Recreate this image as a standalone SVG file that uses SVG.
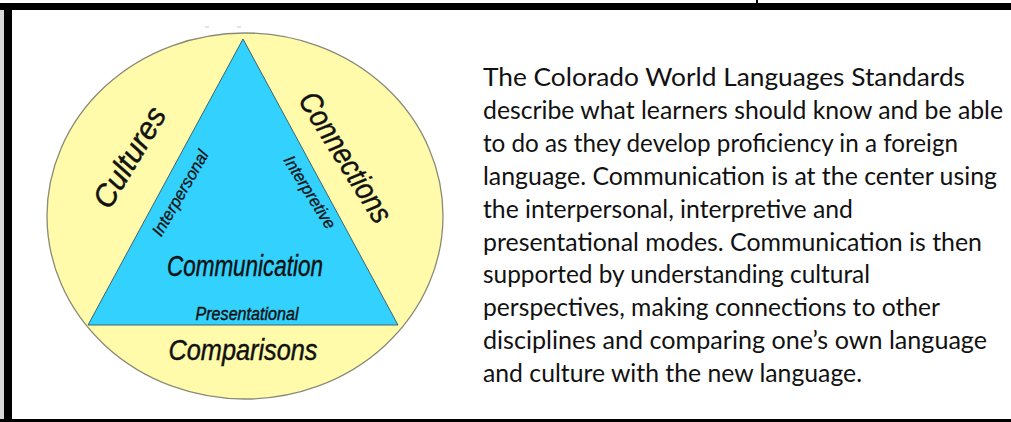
<svg xmlns="http://www.w3.org/2000/svg" width="1011" height="422" viewBox="0 0 1011 422">
<style>
.lbl{font-family:"Liberation Sans",Arial,sans-serif;font-style:italic;fill:#111;stroke:#111;stroke-width:0.45;text-anchor:middle}
.big{font-size:31px}
.mid{font-size:29px}
.sm{font-size:17px;stroke-width:0.3}
.para{font-family:Lato,"Open Sans",sans-serif;font-size:25px;fill:#111}
</style>
<rect x="0" y="0" width="1011" height="422" fill="#ffffff"/>
<g id="frame">
<rect x="0" y="10" width="4" height="412" fill="#d9d9d9"/>
<rect x="0" y="3" width="1011" height="7" fill="#000"/>
<rect x="4" y="10" width="8" height="412" fill="#000"/>
<rect x="0" y="419" width="1011" height="3" fill="#000"/>
<rect x="756" y="0" width="2" height="3" fill="#000"/>
</g>
<g id="marks" stroke="#c4c4c4" stroke-width="1">
<line x1="205" y1="27" x2="209" y2="27"/>
<line x1="237" y1="27" x2="241" y2="27"/>
</g>
<g id="circle">
<ellipse cx="245" cy="216" rx="198" ry="183" fill="#fffbaa" stroke="#8a8a78" stroke-width="1.3"/>
<text class="lbl big" transform="translate(129,157) rotate(-59)" y="11" textLength="112" lengthAdjust="spacingAndGlyphs">Cultures</text>
<text class="lbl big" transform="translate(346,157) rotate(58)" y="11" textLength="148" lengthAdjust="spacingAndGlyphs">Connections</text>
<text class="lbl mid" x="243" y="360" textLength="149" lengthAdjust="spacingAndGlyphs">Comparisons</text>
</g>
<g id="triangle">
<polygon points="243,39 88,325 398,325" fill="#33d1fd" stroke="#3d6470" stroke-width="1"/>
<text class="lbl sm" transform="translate(180,193) rotate(-60)" y="6" textLength="96" lengthAdjust="spacingAndGlyphs">Interpersonal</text>
<text class="lbl sm" transform="translate(310,192) rotate(58)" y="6" textLength="83" lengthAdjust="spacingAndGlyphs">Interpretive</text>
<text class="lbl mid" x="245" y="276" textLength="156" lengthAdjust="spacingAndGlyphs">Communication</text>
<text class="lbl" x="247" y="320" font-size="19" stroke-width="0.35" textLength="103" lengthAdjust="spacingAndGlyphs">Presentational</text>
</g>
<g id="connectors"/>
<g id="description" class="para">
<text x="483" y="86" textLength="482" lengthAdjust="spacingAndGlyphs">The Colorado World Languages Standards</text>
<text x="483" y="118.9" textLength="520" lengthAdjust="spacingAndGlyphs">describe what learners should know and be able</text>
<text x="483" y="151.8" textLength="475" lengthAdjust="spacingAndGlyphs">to do as they develop proficiency in a foreign</text>
<text x="483" y="184.7" textLength="514" lengthAdjust="spacingAndGlyphs">language. Communication is at the center using</text>
<text x="483" y="217.6" textLength="370" lengthAdjust="spacingAndGlyphs">the interpersonal, interpretive and</text>
<text x="483" y="250.5" textLength="499" lengthAdjust="spacingAndGlyphs">presentational modes. Communication is then</text>
<text x="483" y="283.4" textLength="387" lengthAdjust="spacingAndGlyphs">supported by understanding cultural</text>
<text x="483" y="316.3" textLength="457" lengthAdjust="spacingAndGlyphs">perspectives, making connections to other</text>
<text x="483" y="349.2" textLength="504" lengthAdjust="spacingAndGlyphs">disciplines and comparing one’s own language</text>
<text x="483" y="382.1" textLength="379" lengthAdjust="spacingAndGlyphs">and culture with the new language.</text>
</g>
</svg>
